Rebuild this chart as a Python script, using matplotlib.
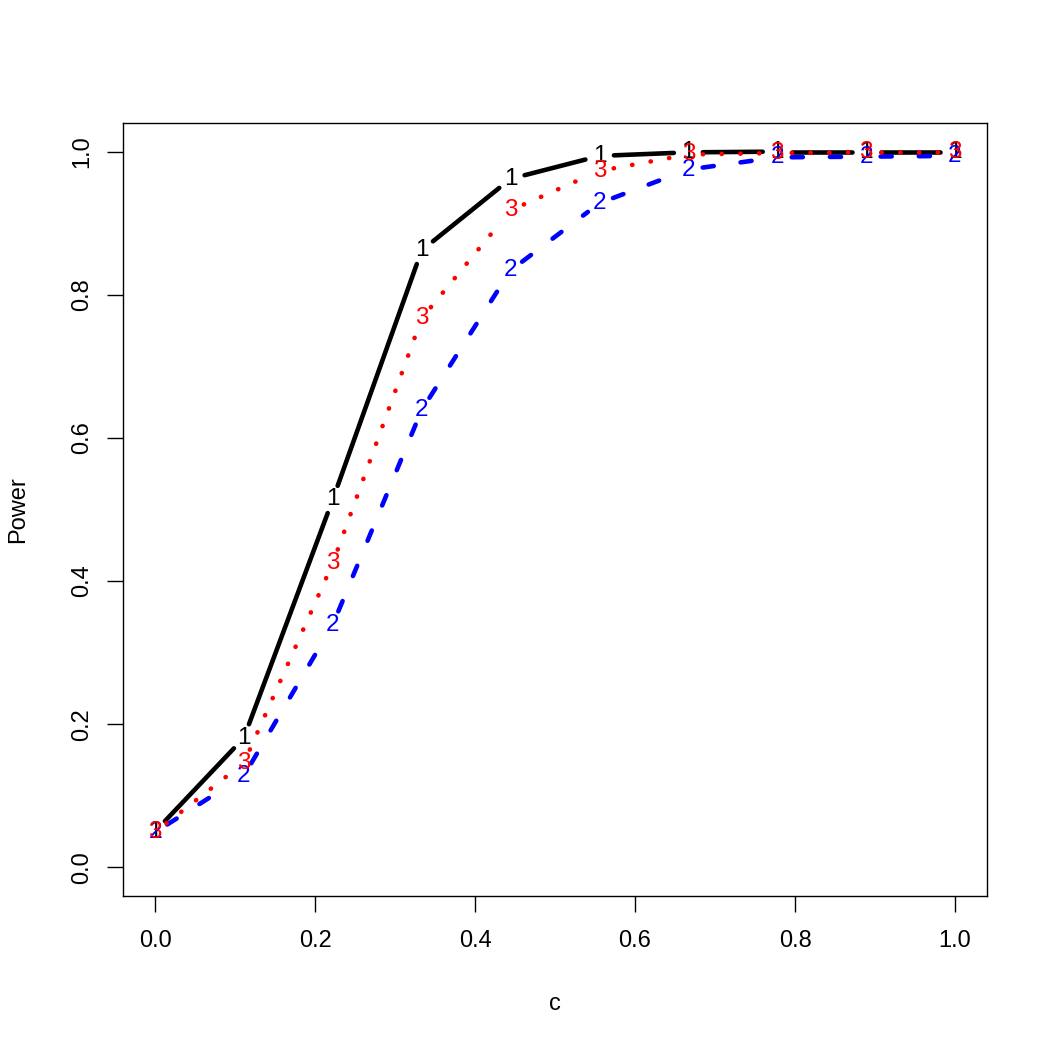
import numpy as np
import matplotlib
matplotlib.use('Agg')
import matplotlib.pyplot as plt

# ---- data ----
c_values = [0.0, 1/9, 2/9, 3/9, 4/9, 5/9, 6/9, 7/9, 8/9, 1.0]
power_1 = [0.050, 0.181, 0.514, 0.862, 0.962, 0.994, 0.999, 1.000, 1.000, 1.000]
power_2 = [0.049, 0.128, 0.339, 0.639, 0.834, 0.928, 0.975, 0.992, 0.993, 0.994]
power_3 = [0.049, 0.146, 0.425, 0.767, 0.918, 0.973, 0.996, 0.998, 0.999, 0.999]
series_labels = ['1', '2', '3']
x_ticks = [0.0, 0.2, 0.4, 0.6, 0.8, 1.0]
y_ticks = [0.0, 0.2, 0.4, 0.6, 0.8, 1.0]

plt.rcParams['font.family'] = ['Liberation Sans', 'DejaVu Sans']
plt.rcParams['lines.scale_dashes'] = False

W = 1050
fig = plt.figure(figsize=(10.5, 10.5), dpi=100)
ax = fig.add_axes([123 / W, 154 / W, 864 / W, 773 / W])
ax.set_xlim(-0.04, 1.04)
ax.set_ylim(-0.04, 1.04)

lw = 3.3
styles = [
    dict(color='black', dashes=None),
    dict(color='#0000FF', dashes=(8.0, 19.5)),
    dict(color='#FF0000', dashes=(0.2, 13.3)),
]
series = [power_1, power_2, power_3]
gap = 14.5  # pixels around each point character

z = 2
for vals, lab, st in zip(series, series_labels, styles):
    pts = ax.transData.transform(np.column_stack([c_values, vals]))
    inv = ax.transData.inverted()
    for i in range(len(pts) - 1):
        p0, p1 = pts[i], pts[i + 1]
        d = p1 - p0
        L = np.hypot(*d)
        if L <= 2 * gap:
            continue
        u = d / L
        q = inv.transform(np.array([p0 + u * gap, p1 - u * gap]))
        ln, = ax.plot(q[:, 0], q[:, 1], color=st['color'], lw=lw,
                      solid_capstyle='round', dash_capstyle='round', zorder=z)
        if st['dashes'] is not None:
            ln.set_dashes(st['dashes'])
    z += 1
    for xv, yv in zip(c_values, vals):
        ax.text(xv, yv, lab, color=st['color'], fontsize=17.5, ha='center',
                va='center', zorder=z)
    z += 1

ax.set_xticks(x_ticks)
ax.set_xticklabels([f'{t:.1f}' for t in x_ticks])
ax.set_yticks(y_ticks)
ax.set_yticklabels([f'{t:.1f}' for t in y_ticks], rotation=90, va='center')
ax.tick_params(axis='both', labelsize=17, length=11.5, width=1.0)
ax.tick_params(axis='x', pad=13.3)
ax.tick_params(axis='y', pad=10)
for s in ax.spines.values():
    s.set_linewidth(1.0)

ax.set_xlabel('c', fontsize=17)
ax.xaxis.set_label_coords(0.5, -0.140)
ax.xaxis.label.set_va('center')
ax.set_ylabel('Power', fontsize=17)
ax.yaxis.set_label_coords(-0.1215, 0.5)
ax.yaxis.label.set_va('center')

fig.savefig('out.png', dpi=100)
